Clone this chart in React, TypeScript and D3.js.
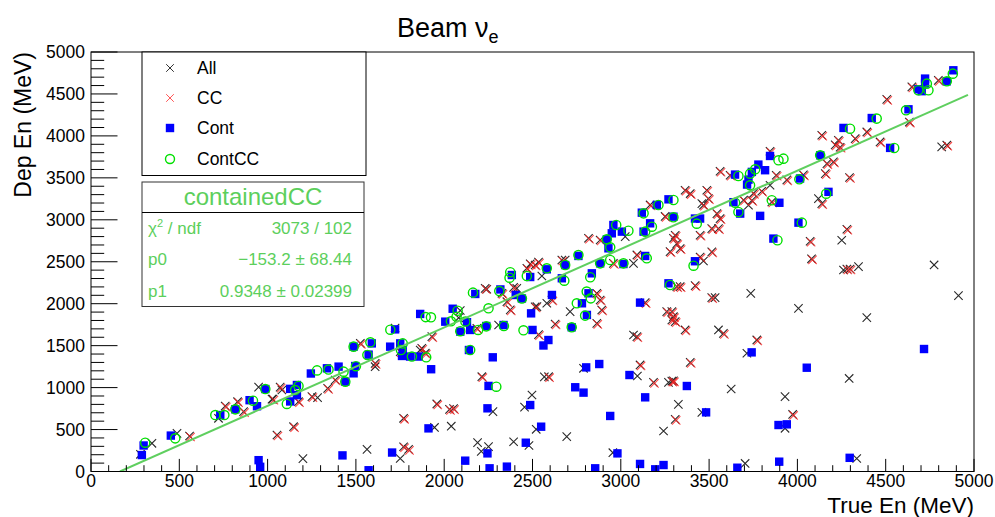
import React from "react";
import * as d3 from "d3";

// ---------- data (True En, Dep En) in MeV ----------
const allExtraPts: number[][] = [
  [280,205],[345,336],[487,454],[722,634],[949,1005],[1025,862],[1081,971],[1200,154],[1283,880],[1563,264],
  [1751,155],[1722,1710],[1864,1448],[2091,1919],[2082,1832],[2241,2172],[2553,2330],[2581,2005],[2525,1965],
  [2685,2521],[3025,2799],[3072,2481],[2713,1905],[2308,1746],[2411,2183],[3072,1627],[2276,713],[2040,540],
  [1945,525],[2189,344],[2210,240],[2251,296],[2393,355],[2480,310],[2455,768],[2497,912],[2521,503],[2567,1128],
  [2694,415],[2789,1230],[2955,224],[3094,1138],[3270,1063],[3242,483],[3326,800],[4817,3869],[4251,2756],
  [3845,3412],[3723,3173],[3459,3193],[4119,3253],[3468,2509],[4261,2402],[4346,2442],[4774,2462],[4912,2096],
  [3736,2123],[4006,1945],[4393,1834],[3553,1687],[3714,1409],[4293,1109],[3625,983],[3930,892],[3459,705],
  [3930,515],[3704,96],[4336,155],[3534,2072],[1609,1249]
];

const ccPts: number[][] = [
  [558,423],[760,780],[830,832],[864,713],[1071,1005],[1030,862],[1053,435],[1147,534],[1175,832],[1251,893],
  [1340,991],[1383,1091],[1525,1528],[1609,1289],[1751,1428],[1873,1468],[1930,1607],[1893,1410],[2185,1706],
  [2232,2183],[2327,2124],[2374,1927],[2355,2024],[2393,2195],[2515,1963],[2534,1632],[2487,2475],[2534,2495],
  [2213,1130],[1958,805],[2030,741],[2053,750],[1770,634],[1770,295],[1798,264],[2468,2422],[2515,2461],
  [2628,1758],[2610,2044],[2666,2521],[2864,2124],[2883,2044],[2892,1925],[2864,1766],[2817,2780],[2883,2759],
  [2958,2481],[3091,2581],[3166,3177],[3298,2780],[3279,2620],[3317,2203],[3138,2013],[3091,1607],[3298,1845],
  [3308,1786],[3260,1905],[3251,3040],[2591,1130],[3109,1270],[3185,1063],[3298,1080],[3308,622],
  [3336,2203],[3421,2215],[3515,2072],[3289,1905],[3289,1806],[3364,1687],[3581,1647],[3770,1568],[3393,1301],
  [3289,1078],[3973,680],[4798,4662],[4648,4584],[4506,4436],[4634,4165],[4393,4047],[4138,4008],[4232,3948],
  [4327,3968],[4214,3893],[4242,3865],[4468,3928],[4846,3889],[3845,3817],[3562,3579],[3619,3531],[4167,3670],
  [4204,3690],[4158,3551],[4034,3535],[3940,3476],[3880,3531],[4295,3504],[4138,3193],[3855,3213],[3798,3340],
  [3742,3230],[4280,2887],[4072,2744],[4080,2535],[3364,3352],[3393,3313],[3487,3352],[3496,3253],[3468,3174],
  [3544,3074],[3562,3014],[3515,2895],[3553,2895],[3449,2816],[3308,2816],[3317,2716],[3336,2657],[3515,2617],
  [3449,2557],[4280,2414],[4298,2414],[3751,3316],[3695,3236]
];

const contPts: number[][] = [
  [288,196],[298,310],[452,428],[732,673],[817,741],[898,850],[940,778],[987,983],[1128,985],[1128,835],
  [1166,1031],[1166,910],[949,135],[958,56],[1245,1168],[1336,1230],[1402,1250],[1440,1071],[1487,1170],
  [1487,1488],[1590,1527],[1572,1393],[1496,1257],[1424,192],[1572,15],[1705,226],[1694,1488],[1722,1694],
  [1751,1527],[1765,1448],[1761,1377],[1807,1370],[1855,1370],[1864,1878],[1926,1219],[2048,1940],[2006,1786],
  [2091,1667],[2129,1780],[2147,1687],[2140,1448],[2238,1734],[2336,1746],[2176,2116],[2318,2170],[2383,2342],
  [2405,2104],[2440,2062],[2487,2318],[2492,1885],[2500,1687],[2562,1502],[2590,1567],[2581,2410],[2610,2104],
  [2275,1361],[2251,1020],[2245,753],[1911,514],[2245,216],[2119,129],[2257,38],[2355,58],[2462,343],[2487,792],
  [2549,534],[2666,2303],[2685,2461],[2760,2569],[2836,2362],[2722,1719],[2780,2005],[2808,1866],[2817,2124],
  [2883,2481],[2930,2660],[2921,2767],[2949,2839],[2958,2938],[3006,2859],[3015,2473],[3119,3085],[3166,2958],
  [3129,2859],[3270,3244],[3204,3177],[3138,2569],[3298,3037],[3270,2243],[3109,2013],[2742,1004],[2789,940],
  [2804,1241],[2878,1281],[2940,662],[2981,216],[2855,38],[3049,1150],[3138,884],[3109,90],[3195,26],[3242,77],
  [4883,4782],[4846,4651],[4723,4683],[4723,4624],[4685,4556],[4704,4533],[4629,4317],[4421,4213],[4261,4095],
  [4525,3857],[3845,3761],[3779,3658],[3742,3571],[3817,3591],[3647,3539],[3723,3479],[3715,3420],[4129,3769],
  [4015,3492],[4176,3333],[3898,3203],[3638,3210],[3676,3074],[3789,3047],[4006,2966],[3864,2776],[3420,3015],
  [3449,3015],[3420,2506],[3741,1420],[4053,1237],[4717,1460],[3374,1019],[3483,705],[3893,554],[3940,562],
  [3660,45],[3897,117],[4296,163]
];

const contCCPts: number[][] = [
  [307,343],[477,395],[704,673],[755,673],[817,741],[917,844],[987,983],[1109,805],[1156,971],[1175,1019],
  [1280,1205],[1345,1215],[1430,1190],[1440,1071],[1500,1255],[1487,1488],[1582,1540],[1565,1389],[1695,1690],
  [1765,1527],[1755,1448],[1817,1370],[1898,1361],[1895,1840],[1925,1838],[2076,1916],[2070,1845],[2038,1790],
  [2091,1672],[2120,1787],[2192,1687],[2147,1448],[2251,1945],[2238,1730],[2338,1735],[2163,2132],[2312,2150],
  [2374,2375],[2370,2310],[2440,2062],[2449,1683],[2468,2330],[2581,2422],[2295,1011],[2680,2275],[2685,2461],
  [2760,2580],[2827,2315],[2722,1719],[2751,2005],[2798,1858],[2807,2144],[2830,2064],[2883,2481],[2940,2521],
  [2940,2672],[2921,2767],[2974,2938],[3043,2870],[3015,2481],[3129,3077],[3176,2918],[3138,2859],[3298,3236],
  [3213,3177],[3298,3030],[3147,2541],[3279,2223],[4880,4742],[4846,4651],[4733,4623],[4742,4544],[4685,4544],
  [4615,4305],[4449,4206],[4298,4086],[4548,3856],[4129,3769],[3921,3729],[3893,3709],[3761,3602],[3732,3550],
  [3666,3522],[3732,3411],[4011,3483],[4163,3311],[3855,3233],[3647,3204],[3666,3093],[4025,2966],[3887,2756],
  [3430,2954],[3412,2453]
];

const majorTicks = [0, 500, 1000, 1500, 2000, 2500, 3000, 3500, 4000, 4500, 5000];
const legendLabels = ["All", "CC", "Cont", "ContCC"];
const fitName = "containedCC";
const fitP0 = -153.2;
const fitP1 = 0.9348;
const fitXMax = 4966;
const statsValues = ["3073 / 102", "\u2212153.2 \u00b1 68.44", "0.9348 \u00b1 0.02399"];

// ---------- layout ----------
const W = 995, H = 517;
const FL = 91, FR = 974, FT = 52, FB = 471.5;
const FONT = "'Liberation Sans', Arial, Helvetica, sans-serif";
const GREEN_TXT = "#5ccf5c";
const XS = 4.2;

const xs = d3.scaleLinear().domain([0, 5000]).range([FL, FR]);
const ys = d3.scaleLinear().domain([0, 5000]).range([FB, FT]);

const xPath = (cx: number, cy: number, s: number) =>
  `M${cx - s},${cy - s}L${cx + s},${cy + s}M${cx - s},${cy + s}L${cx + s},${cy - s}`;

export default function App() {
  const allPts = [...allExtraPts, ...ccPts];
  const minorTicks = d3.range(0, 5001, 100).filter((v) => v % 500 !== 0);
  const fitX0 = Math.max(0, -fitP0 / fitP1);
  const fitLine = d3.line<number>().x((v) => xs(v)).y((v) => ys(fitP0 + fitP1 * v));
  const fitD = fitLine([fitX0, fitXMax]) || "";

  const legendMarkerX = 170;
  const legendTextX = 197;
  const legendYs = [68, 98, 128, 159];

  return (
    <svg width={W} height={H} style={{ position: "absolute", left: 0, top: 0, background: "#fff" }} fontFamily={FONT}>
      <rect x={0} y={0} width={W} height={H} fill="#fff" />
      {/* title */}
      <text x={397} y={37} fontSize={27} fill="#000">
        Beam ν<tspan dy={6} fontSize={18}>e</tspan>
      </text>

      {/* markers */}
      <g clipPath="url(#frameclip)">
        {allPts.map((p, i) => (
          <path key={"a" + i} d={xPath(xs(p[0]), ys(p[1]), XS)} stroke="#2a2a2a" strokeWidth={1.1} fill="none" />
        ))}
        {ccPts.map((p, i) => (
          <path key={"c" + i} d={xPath(xs(p[0]) + 1, ys(p[1]) + 1, XS)} stroke="#ff2020" strokeOpacity={0.8} strokeWidth={1.1} fill="none" />
        ))}
        {contPts.map((p, i) => (
          <rect key={"n" + i} x={xs(p[0]) - 4.2} y={ys(p[1]) - 4.2} width={8.4} height={8.4} fill="#0000ff" />
        ))}
        {contCCPts.map((p, i) => (
          <circle key={"k" + i} cx={xs(p[0])} cy={ys(p[1])} r={4.6} fill="none" stroke="#00e000" strokeWidth={1.4} />
        ))}
        <path d={fitD} stroke="#5fcf5f" strokeWidth={2} fill="none" />
      </g>
      <defs>
        <clipPath id="frameclip">
          <rect x={FL} y={FT - 6} width={FR - FL + 6} height={FB - FT + 6} />
        </clipPath>
      </defs>

      {/* frame */}
      <rect x={FL} y={FT} width={FR - FL} height={FB - FT} fill="none" stroke="#000" strokeWidth={1} />

      {/* x axis ticks */}
      {majorTicks.map((t) => (
        <line key={"xt" + t} x1={xs(t)} x2={xs(t)} y1={FB} y2={FB - 12.6} stroke="#000" strokeWidth={1} />
      ))}
      {minorTicks.map((t) => (
        <line key={"xm" + t} x1={xs(t)} x2={xs(t)} y1={FB} y2={FB - 6.3} stroke="#000" strokeWidth={1} />
      ))}
      {majorTicks.map((t) => (
        <text key={"xl" + t} x={xs(t)} y={487} fontSize={17.5} textAnchor="middle" fill="#000">{t}</text>
      ))}

      {/* y axis ticks */}
      {majorTicks.map((t) => (
        <line key={"yt" + t} x1={FL} x2={FL + 26.5} y1={ys(t)} y2={ys(t)} stroke="#000" strokeWidth={1} />
      ))}
      {minorTicks.map((t) => (
        <line key={"ym" + t} x1={FL} x2={FL + 13.2} y1={ys(t)} y2={ys(t)} stroke="#000" strokeWidth={1} />
      ))}
      {majorTicks.map((t) => (
        <text key={"yl" + t} x={85} y={ys(t) + 6.3} fontSize={17.5} textAnchor="end" fill="#000">{t}</text>
      ))}

      {/* axis titles */}
      <text x={974} y={513} fontSize={22.5} textAnchor="end" fill="#000">True En (MeV)</text>
      <text transform={`translate(31,${FT}) rotate(-90)`} fontSize={23} textAnchor="end" fill="#000">Dep En (MeV)</text>

      {/* legend */}
      <rect x={142} y={52} width={224} height={123.5} fill="#fff" stroke="#000" strokeWidth={1} />
      {legendLabels.map((lab, i) => {
        const cy = legendYs[i];
        let marker: React.ReactNode = null;
        if (i === 0) marker = <path d={xPath(legendMarkerX, cy, 3.8)} stroke="#333" strokeWidth={1} fill="none" />;
        if (i === 1) marker = <path d={xPath(legendMarkerX, cy, 3.8)} stroke="#ff2a2a" strokeOpacity={0.8} strokeWidth={1} fill="none" />;
        if (i === 2) marker = <rect x={legendMarkerX - 4.2} y={cy - 4.2} width={8.4} height={8.4} fill="#0000ff" />;
        if (i === 3) marker = <circle cx={legendMarkerX} cy={cy} r={4.5} fill="none" stroke="#00e000" strokeWidth={1.4} />;
        return (
          <g key={lab}>
            {marker}
            <text x={legendTextX} y={cy + 6} fontSize={17.5} fill="#000">{lab}</text>
          </g>
        );
      })}

      {/* stats box */}
      <rect x={142} y={182} width={222} height={124.5} fill="#fff" stroke="#333" strokeWidth={1} />
      <line x1={142} x2={364} y1={212.5} y2={212.5} stroke="#000" strokeWidth={1} />
      <text x={253} y={205} fontSize={24} textAnchor="middle" fill={GREEN_TXT}>{fitName}</text>
      <text x={148} y={234} fontSize={17} fill={GREEN_TXT}>
        χ<tspan dy={-7} fontSize={11}>2</tspan><tspan dy={7}> / ndf</tspan>
      </text>
      <text x={148} y={265} fontSize={17} fill={GREEN_TXT}>p0</text>
      <text x={148} y={297} fontSize={17} fill={GREEN_TXT}>p1</text>
      {statsValues.map((v, i) => (
        <text key={"sv" + i} x={352} y={[234, 265, 297][i]} fontSize={17} textAnchor="end" fill={GREEN_TXT}>{v}</text>
      ))}
    </svg>
  );
}
